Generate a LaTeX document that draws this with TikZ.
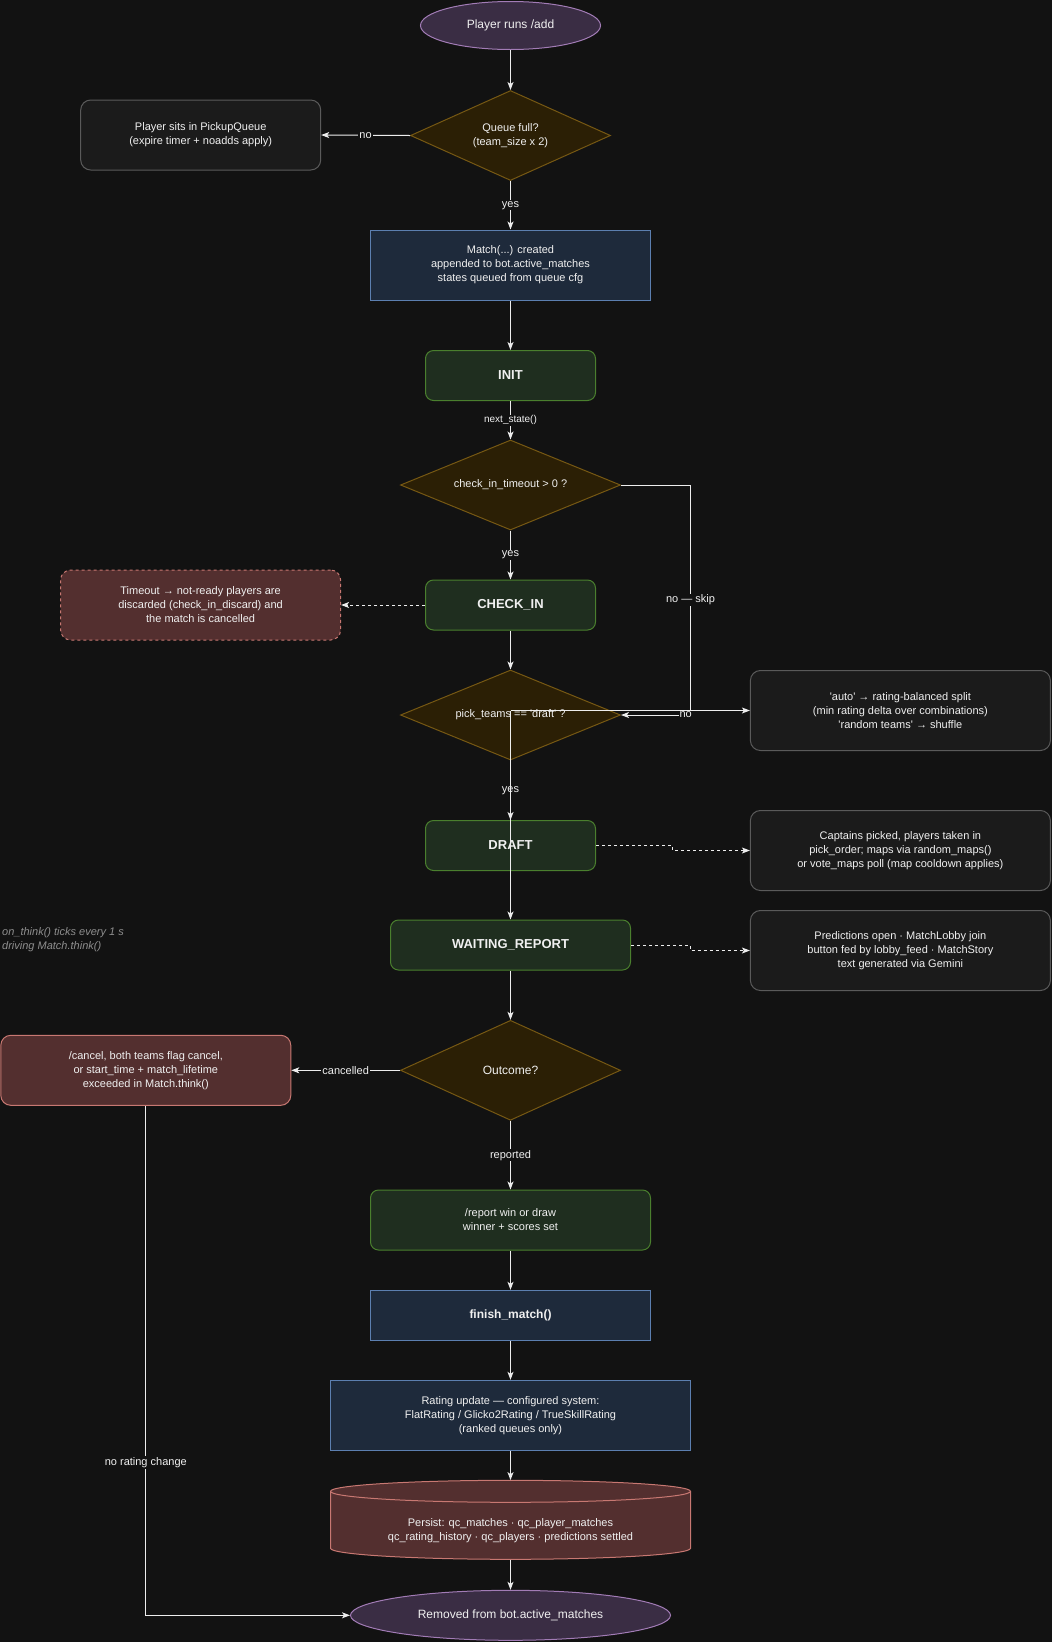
\documentclass[tikz,border=0pt]{standalone}
\usepackage{fontspec}
\setmainfont{Liberation Sans}
\usetikzlibrary{shapes.geometric,arrows.meta}
\definecolor{bg}{HTML}{121212}
\definecolor{txt}{HTML}{F0F0F0}
\definecolor{linec}{HTML}{EDEDED}
\definecolor{notec}{HTML}{8E8E8E}
\definecolor{pfill}{HTML}{3A2D44}
\definecolor{pstroke}{HTML}{A27CB6}
\definecolor{dfill}{HTML}{2B1F05}
\definecolor{dstroke}{HTML}{765813}
\definecolor{grayfill}{HTML}{1B1B1B}
\definecolor{graystroke}{HTML}{5A5A5A}
\definecolor{navyfill}{HTML}{1E2A3B}
\definecolor{navystroke}{HTML}{5C7FB0}
\definecolor{greenfill}{HTML}{1F2E1F}
\definecolor{greenstroke}{HTML}{4A7F2E}
\definecolor{redfill}{HTML}{532F2F}
\definecolor{redstroke}{HTML}{C87872}
\newcommand\fszten{\fontsize{10pt}{12pt}\selectfont}
\newcommand\fszeleven{\fontsize{11pt}{14pt}\selectfont}
\newcommand\fsztwelve{\fontsize{12pt}{14pt}\selectfont}
\newcommand\fszbold{\fontsize{13pt}{15pt}\selectfont\bfseries}
\tikzset{
  base/.style={draw, line width=1pt, align=center, text=txt, font=\fszeleven, inner sep=0pt},
  greybox/.style={base, rounded corners=10pt, fill=grayfill, draw=graystroke},
  navybox/.style={base, fill=navyfill, draw=navystroke},
  greenbox/.style={base, rounded corners=8pt, fill=greenfill, draw=greenstroke},
  redbox/.style={base, rounded corners=10pt, fill=redfill, draw=redstroke},
  decision/.style={base, diamond, fill=dfill, draw=dstroke},
  terminal/.style={base, ellipse, fill=pfill, draw=pstroke, font=\fsztwelve},
  conn/.style={line width=1pt, draw=linec, -{Stealth[length=8pt,width=6pt,inset=2pt]}},
  dconn/.style={conn, dash pattern=on 3pt off 3pt},
  elab/.style={fill=bg, text=txt, inner sep=1pt, font=\fszeleven},
}
\begin{document}
\begin{tikzpicture}[x=1pt,y=-1pt]
\fill[bg] (0,0) rectangle (1052,1642);
\useasboundingbox (0,0) rectangle (1052,1642);

% nodes
\node[terminal, minimum width=180pt, minimum height=48pt] (start) at (510.5,25.5) {Player runs /add};
\node[decision, aspect=2.22, minimum width=200pt, minimum height=90pt] (qfull) at (510.5,135.5) {Queue full?\\(team\_size x 2)};
\node[greybox, minimum width=240pt, minimum height=70pt] (pickup) at (200.7,135) {Player sits in PickupQueue\\(expire timer + noadds apply)};
\node[navybox, minimum width=280pt, minimum height=70pt] (match) at (510.5,265) {Match(...) created\\appended to bot.active\_matches\\states queued from queue cfg};
\node[greenbox, font=\fszbold, minimum width=170pt, minimum height=50pt] (init) at (510.5,375.5) {INIT};
\node[decision, aspect=2.44, minimum width=220pt, minimum height=90pt] (ci) at (510.5,485) {check\_in\_timeout > 0 ?};
\node[greenbox, font=\fszbold, minimum width=170pt, minimum height=50pt] (checkin) at (510.5,605) {CHECK\_IN};
\node[redbox, dash pattern=on 3pt off 3pt, minimum width=280pt, minimum height=70pt] (timeout) at (200.6,605) {Timeout → not-ready players are\\discarded (check\_in\_discard) and\\the match is cancelled};
\node[decision, aspect=2.44, minimum width=220pt, minimum height=90pt] (pick) at (510.5,715) {pick\_teams == \textquotesingle draft\textquotesingle\ ?};
\node[greybox, minimum width=300pt, minimum height=80pt] (auto) at (900.4,710.5) {\textquotesingle auto\textquotesingle\ → rating-balanced split\\(min rating delta over combinations)\\\textquotesingle random teams\textquotesingle\ → shuffle};
\node[greenbox, font=\fszbold, minimum width=170pt, minimum height=50pt] (draft) at (510.5,845.5) {DRAFT};
\node[greybox, minimum width=300pt, minimum height=80pt] (dnote) at (900.4,850.5) {Captains picked, players taken in\\pick\_order; maps via random\_maps()\\or vote\_maps poll (map cooldown applies)};
\node[greenbox, font=\fszbold, minimum width=240pt, minimum height=50pt] (wr) at (510.5,945) {WAITING\_REPORT};
\node[greybox, minimum width=300pt, minimum height=80pt] (wnote) at (900.4,950.5) {Predictions open · MatchLobby join\\button fed by lobby\_feed · MatchStory\\text generated via Gemini};
\node[anchor=west, text=notec, font=\fszeleven\itshape, align=left, inner sep=0pt] (tick) at (2,940) {on\_think() ticks every 1 s\\driving Match.think()};
\node[decision, aspect=2.2, font=\fsztwelve, minimum width=220pt, minimum height=100pt] (outcome) at (510.5,1070.3) {Outcome?};
\node[redbox, minimum width=290pt, minimum height=70pt] (cancel) at (145.8,1070.3) {/cancel, both teams flag cancel,\\or start\_time + match\_lifetime\\exceeded in Match.think()};
\node[greenbox, minimum width=280pt, minimum height=60pt] (report) at (510.5,1220) {/report win or draw\\winner + scores set};
\node[navybox, font=\fsztwelve\bfseries, minimum width=280pt, minimum height=50pt] (finish) at (510.5,1315.3) {finish\_match()};
\node[navybox, minimum width=360pt, minimum height=70pt] (rating) at (510.5,1415.3) {Rating update — configured system:\\FlatRating / Glicko2Rating / TrueSkillRating\\(ranked queues only)};
% cylinder
\node[minimum width=360pt, minimum height=79pt, inner sep=0pt] (persist) at (510.5,1519.8) {};
\filldraw[fill=redfill, draw=redstroke, line width=1pt]
  (330.5,1491.3) -- (330.5,1548.3) arc (180:360:180pt and 11pt) -- (690.5,1491.3) arc (0:180:180pt and 11pt) -- cycle;
\draw[draw=redstroke, line width=1pt] (330.5,1491.3) arc (180:360:180pt and 11pt);
\node[text=txt, font=\fszeleven, align=center, inner sep=0pt] (persisttxt) at (510.5,1530.5) {Persist: qc\_matches · qc\_player\_matches\\qc\_rating\_history · qc\_players · predictions settled};
\node[terminal, minimum width=320pt, minimum height=50pt] (end) at (510.5,1615.3) {Removed from bot.active\_matches};

% connectors
\coordinate (skipc) at (690.5,715);
\coordinate (j) at (510.5,710.5);
\draw[conn] (start) -- (qfull);
\draw[conn] (qfull.west) -- node[elab]{no} (pickup.east);
\draw[conn] (qfull.south) -- node[elab]{yes} (match.north);
\draw[conn] (match) -- (init);
\draw[conn] (init.south) -- node[elab, font=\fszten]{next\_state()} (ci.north);
\draw[conn] (ci.south) -- node[elab]{yes} (checkin.north);
\draw[conn] (ci.east) -- (ci.east -| skipc) -- node[elab]{no — skip} (skipc) -- node[elab, pos=0.07]{no} (pick.east);
\draw[dconn] (checkin.west) -- (timeout.east);
\draw[conn] (checkin.south) -- (pick.north);
\draw[conn] (pick.south) -- node[elab]{yes} (draft.north);
\draw[conn] (j) -- (auto.west);
\draw[conn] (j) -- (wr.north);
\draw[dconn] (draft.east) -- (672.5,845.5) -- (672.5,850.5) -- (dnote.west);
\draw[dconn] (wr.east) -- (690,945) -- (690,950.5) -- (wnote.west);
\draw[conn] (wr) -- (outcome);
\draw[conn] (outcome.west) -- node[elab]{cancelled} (cancel.east);
\draw[conn] (outcome.south) -- node[elab]{reported} (report.north);
\draw[conn] (report) -- (finish);
\draw[conn] (finish) -- (rating);
\draw[conn] (rating.south) -- (persist.north);
\draw[conn] (persist.south) -- (end.north);
\draw[conn] (cancel.south) -- node[elab, pos=0.70]{no rating change} (cancel.south |- end.west) -- (end.west);
\end{tikzpicture}
\end{document}
